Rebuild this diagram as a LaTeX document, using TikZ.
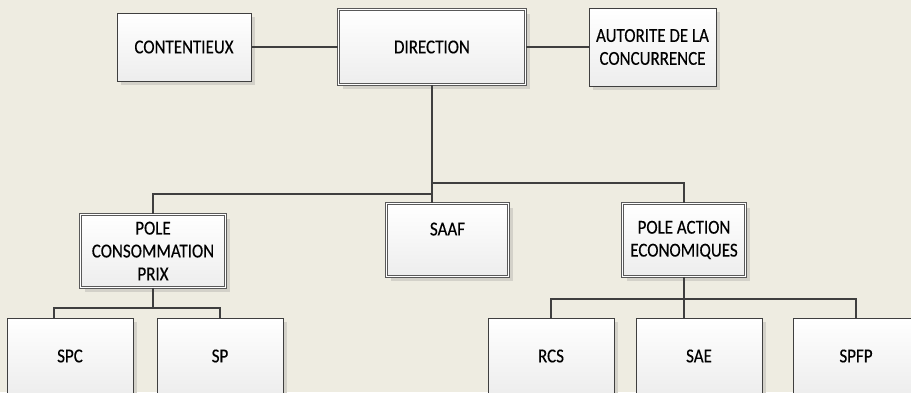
\documentclass[tikz,border=0pt]{standalone}
\usepackage{fontspec}
\setmainfont{Carlito}[FakeStretch=0.86,FakeBold=0.3]
\usepackage{tikz}
\usetikzlibrary{shadows}

\definecolor{bgtan}{HTML}{EEECE1}
\definecolor{linegray}{HTML}{3F3F3F}
\definecolor{shadowgray}{HTML}{D3D1C9}

\tikzset{
  box/.style={rectangle, draw=linegray, line width=0.9bp, inner sep=0pt, align=center,
    top color=white, bottom color=black!7, text=black,
    font=\fontsize{19.8pt}{23pt}\selectfont,
    drop shadow={shadow xshift=4bp, shadow yshift=-4bp, fill=shadowgray, opacity=1}},
  dbox/.style={box, draw=black!65, line width=0.7bp, double=white, double distance=1.6bp},
  link/.style={draw=linegray, line width=1.4bp}
}

\begin{document}
\begin{tikzpicture}[x=1bp,y=-1bp,semithick]
  \useasboundingbox (0,0) rectangle (911,392);
  \fill[bgtan] (0,0) rectangle (911,392);

  % top row
  \node[dbox,minimum width=187bp,minimum height=75bp]  (dir)  at (432,47)          {DIRECTION};
  \node[box,minimum width=134bp,minimum height=68bp]   (cont) [left of=dir,node distance=248bp]   {CONTENTIEUX};
  \node[box,minimum width=127bp,minimum height=78bp]   (aut)  [right of=dir,node distance=220.5bp] {AUTORITE DE LA\\CONCURRENCE};

  % middle row
  \node[dbox,minimum width=145bp,minimum height=73bp]  (pcp)  at (153,251)         {POLE\\CONSOMMATION\\PRIX};
  \node[dbox,minimum width=122bp,minimum height=73bp,text depth=22bp] (saaf) at (447.5,240) {SAAF};
  \node[dbox,minimum width=123bp,minimum height=73bp]  (pae)  [right of=saaf,node distance=236.5bp] {POLE ACTION\\ECONOMIQUES};

  % bottom row
  \node[box,minimum width=126bp,minimum height=76bp]   (spc)  at (70,356)          {SPC};
  \node[box,minimum width=126bp,minimum height=76bp]   (sp)   [right of=spc,node distance=150bp]  {SP};
  \node[box,minimum width=126bp,minimum height=76bp]   (rcs)  at (551,356)         {RCS};
  \node[box,minimum width=126bp,minimum height=76bp]   (sae)  [right of=rcs,node distance=148bp]  {SAE};
  \node[box,minimum width=126bp,minimum height=76bp]   (spfp) [right of=sae,node distance=157bp]  {SPFP};

  \coordinate (jr) at (432,183);
  \coordinate (jl) at (432,194);
  \coordinate (jc) at (153,308);
  \coordinate (ja) at (684,299);

  \draw[link] (cont) -- (dir);
  \draw[link] (dir) -- (aut);
  \draw[link] (dir.south) -- (dir.south |- saaf.north);
  \draw[link] (jr) -| (pae.north);
  \draw[link] (jl) -| (pcp.north);
  \draw[link] (pcp.south) -- (jc) -| ([xshift=-16bp]spc.north);
  \draw[link] (jc) -| (sp.north);
  \draw[link] (pae.south) -- (pae.south |- sae.north);
  \draw[link] (ja) -| (rcs.north);
  \draw[link] (ja) -| (spfp.north);
\end{tikzpicture}
\end{document}
